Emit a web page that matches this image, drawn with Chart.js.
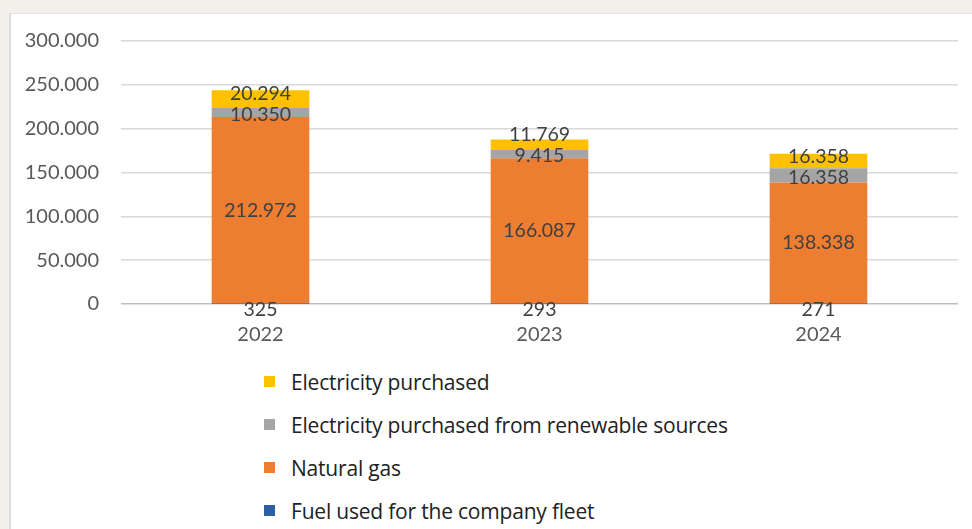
<!DOCTYPE html>
<html>
<head>
<meta charset="utf-8">
<script src="https://cdn.jsdelivr.net/npm/chart.js@4.4.1/dist/chart.umd.min.js"></script>
<style>
  html, body { margin: 0; padding: 0; }
  body { width: 972px; height: 529px; background: #f3efeb; position: relative; overflow: hidden; font-family: Lato, "Open Sans", sans-serif; }
  #panel { position: absolute; left: 9px; top: 13px; width: 963px; height: 516px; background: #ffffff; border-left: 2px solid #dcdcdc; border-top: 1px solid #e2e2e2; box-sizing: border-box; overflow: hidden; }
  #wrap { position: absolute; left: 0; top: -7px; width: 961px; height: 352px; }
  #legend { position: absolute; left: 253px; top: 346px; margin: 0; padding: 0; list-style: none; }
  #legend li { height: 43px; display: flex; align-items: center; font-family: "Open Sans", sans-serif; font-size: 21px; color: #222222; letter-spacing: -0.2px; }
  #legend li span.box { display: inline-block; width: 11px; height: 11px; margin-right: 16px; }
</style>
</head>
<body>
<div id="panel">
  <div id="wrap"><canvas id="c"></canvas></div>
  <ul id="legend"></ul>
</div>
<script>
const categories = ["2022", "2023", "2024"];
const fleetFuel = [325, 293, 271];
const naturalGas = [212972, 166087, 138338];
const electricityRenewable = [10350, 9415, 16358];
const electricityPurchased = [20294, 11769, 16358];
const yTicks = [0, 50000, 100000, 150000, 200000, 250000, 300000];

const seriesNames = [
  "Fuel used for the company fleet",
  "Natural gas",
  "Electricity purchased from renewable sources",
  "Electricity purchased"
];
const seriesColors = ["#2e5fa3", "#ed7d31", "#a5a5a5", "#ffc000"];

function fmt(v) {
  return String(Math.round(v)).replace(/\B(?=(\d{3})+(?!\d))/g, ".");
}

const labelPlugin = {
  id: "segLabels",
  afterDatasetsDraw(chart) {
    const ctx = chart.ctx;
    ctx.save();
    ctx.font = "19.5px Lato";
    ctx.fillStyle = "#404040";
    ctx.textAlign = "center";
    ctx.textBaseline = "middle";
    const n = chart.data.labels.length;
    for (let i = 0; i < n; i++) {
      const pos = [];
      chart.data.datasets.forEach((ds, di) => {
        const el = chart.getDatasetMeta(di).data[i];
        pos.push({ x: el.x, y: (el.y + el.base) / 2, base: el.base, v: ds.data[i] });
      });
      pos[0].y = pos[0].base + 6;
      pos[2].y = pos[2].y + 2;
      pos[3].y = Math.min(pos[3].y, pos[2].y - 21);
      pos.forEach(p => ctx.fillText(fmt(p.v), p.x, p.y));
    }
    ctx.restore();
  }
};

const chart = new Chart(document.getElementById("c"), {
  type: "bar",
  data: {
    labels: categories,
    datasets: [
      { label: seriesNames[0], data: fleetFuel, backgroundColor: seriesColors[0] },
      { label: seriesNames[1], data: naturalGas, backgroundColor: seriesColors[1] },
      { label: seriesNames[2], data: electricityRenewable, backgroundColor: seriesColors[2] },
      { label: seriesNames[3], data: electricityPurchased, backgroundColor: seriesColors[3] }
    ]
  },
  options: {
    responsive: true,
    maintainAspectRatio: false,
    animation: false,
    layout: { padding: { top: 22, right: 14, bottom: 0, left: 0 } },
    plugins: { legend: { display: false }, tooltip: { enabled: false } },
    datasets: { bar: { barPercentage: 0.35, categoryPercentage: 1, borderWidth: 0 } },
    scales: {
      x: {
        stacked: true,
        grid: { display: false, drawTicks: false },
        border: { display: false },
        ticks: { color: "#595959", font: { family: "Lato", size: 20 }, padding: 19 },
        afterFit(s) { s.height = 55; }
      },
      y: {
        stacked: true,
        min: 0,
        max: 300000,
        afterBuildTicks(s) { s.ticks = yTicks.map(v => ({ value: v })); },
        grid: {
          color: (c) => c.tick && c.tick.value === 0 ? "#bfbfbf" : "#d9d9d9",
          lineWidth: 1.5,
          drawTicks: false
        },
        border: { display: false },
        ticks: { color: "#595959", font: { family: "Lato", size: 20 }, padding: 22, callback: (v) => fmt(v) },
        afterFit(s) { s.width = 110; }
      }
    }
  },
  plugins: [labelPlugin]
});

const lg = document.getElementById("legend");
chart.data.datasets.slice().reverse().forEach(ds => {
  const li = document.createElement("li");
  const b = document.createElement("span");
  b.className = "box";
  b.style.background = ds.backgroundColor;
  li.appendChild(b);
  li.appendChild(document.createTextNode(ds.label));
  lg.appendChild(li);
});
</script>
</body>
</html>
